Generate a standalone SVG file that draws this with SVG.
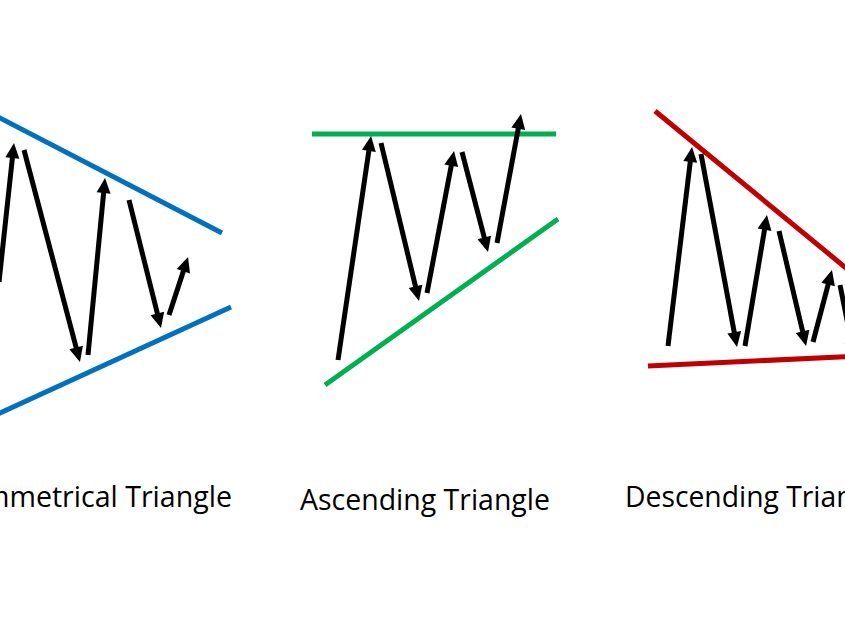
<svg xmlns="http://www.w3.org/2000/svg" width="845" height="634" viewBox="0 0 845 634">
<style>
.bg{fill:#ffffff}
.blue{stroke:#0070C0;stroke-width:5;fill:none}
.green{stroke:#00B050;stroke-width:5;fill:none}
.red{stroke:#C00000;stroke-width:5;fill:none}
.arr{stroke:#000000;stroke-width:5;fill:none;marker-end:url(#ah)}
.lbl{font-family:"Open Sans","Liberation Sans",sans-serif;font-size:29px;fill:#000000}
</style>
<defs>
<marker id="ah" markerUnits="userSpaceOnUse" markerWidth="15" markerHeight="14" refX="3" refY="7" orient="auto" overflow="visible">
<path d="M0,0 L15,7 L0,14 Z" fill="#000000"/>
</marker>
</defs>
<rect class="bg" x="0" y="0" width="845" height="634"/>
<g id="symmetrical">
<line class="blue" x1="-5" y1="115.4" x2="222" y2="233"/>
<line class="blue" x1="-5" y1="415.3" x2="231" y2="307"/>
<text class="lbl" x="-47" y="507" textLength="279" lengthAdjust="spacingAndGlyphs">Symmetrical Triangle</text>
</g>
<g id="ascending">
<line class="green" x1="312" y1="134" x2="556" y2="134"/>
<line class="green" x1="325" y1="385" x2="558" y2="219"/>
<text class="lbl" x="300" y="510" textLength="250" lengthAdjust="spacingAndGlyphs">Ascending Triangle</text>
</g>
<g id="descending">
<line class="red" x1="655" y1="111" x2="860" y2="279.5"/>
<line class="red" x1="648" y1="366" x2="860" y2="356"/>
<text class="lbl" x="625" y="507" textLength="267" lengthAdjust="spacingAndGlyphs">Descending Triangle</text>
</g>
<g id="connectors">
<line class="arr" x1="-1" y1="282" x2="12.7" y2="154.9"/>
<line class="arr" x1="24" y1="150" x2="76.9" y2="350.4"/>
<line class="arr" x1="88" y1="355" x2="103.9" y2="190"/>
<line class="arr" x1="129" y1="200" x2="158.1" y2="316.4"/>
<line class="arr" x1="169" y1="315" x2="184.3" y2="268.4"/>
<line class="arr" x1="338" y1="360" x2="369.3" y2="147.9"/>
<line class="arr" x1="381" y1="143" x2="416.2" y2="289.3"/>
<line class="arr" x1="427" y1="293" x2="451.8" y2="162.8"/>
<line class="arr" x1="462" y1="152" x2="485" y2="240.4"/>
<line class="arr" x1="497" y1="243" x2="518.8" y2="125.8"/>
<line class="arr" x1="668" y1="346" x2="690.6" y2="158.9"/>
<line class="arr" x1="701" y1="154" x2="734.8" y2="335.2"/>
<line class="arr" x1="745" y1="346" x2="765" y2="226.8"/>
<line class="arr" x1="779" y1="231" x2="803.3" y2="334.3"/>
<line class="arr" x1="813" y1="342" x2="828.9" y2="281.6"/>
<line class="arr" x1="840" y1="285" x2="852" y2="345"/>
</g>
</svg>
